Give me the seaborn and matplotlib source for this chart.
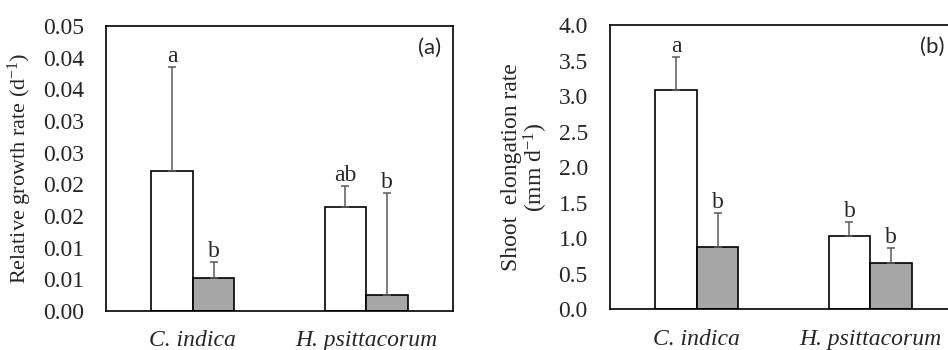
import matplotlib
matplotlib.use("Agg")
import matplotlib.pyplot as plt
import seaborn as sns
import pandas as pd

# ---- data ----
species = ["C. indica", "H. psittacorum"]
treatments = ["T1", "T2"]
rgr_mean = [[0.0221, 0.0052], [0.0164, 0.0026]]
rgr_err = [[0.0164, 0.0026], [0.0033, 0.0161]]
rgr_letters = [["a", "b"], ["ab", "b"]]
ser_mean = [[3.08, 0.88], [1.035, 0.655]]
ser_err = [[0.47, 0.48], [0.195, 0.21]]
ser_letters = [["a", "b"], ["b", "b"]]
rgr_ticks = [0.0, 0.005, 0.01, 0.015, 0.02, 0.025, 0.03, 0.035, 0.04, 0.045]
rgr_ticklabels = ["0.00", "0.01", "0.01", "0.02", "0.02", "0.03", "0.03", "0.04", "0.04", "0.05"]
ser_ticks = [0.0, 0.5, 1.0, 1.5, 2.0, 2.5, 3.0, 3.5, 4.0]
ser_ticklabels = ["0.0", "0.5", "1.0", "1.5", "2.0", "2.5", "3.0", "3.5", "4.0"]

sns.set_style("white")
plt.rcParams["font.family"] = ["Liberation Serif", "DejaVu Serif"]
plt.rcParams["mathtext.fontset"] = "custom"
plt.rcParams["mathtext.rm"] = "Liberation Serif"
plt.rcParams["mathtext.default"] = "rm"

FS = 17
colors = ["white", "#a6a6a6"]


def make_df(mean):
    rows = []
    for i, sp in enumerate(species):
        for j, tr in enumerate(treatments):
            rows.append({"species": sp, "treatment": tr, "value": mean[i][j]})
    return pd.DataFrame(rows)


def panel(ax, mean, err, letters, ticks, ticklabels, ylabel, ylfs, tag):
    df = make_df(mean)
    sns.barplot(data=df, x="species", y="value", hue="treatment",
                hue_order=treatments, order=species, palette=colors,
                saturation=1, width=0.48, edgecolor="black", linewidth=1.2,
                errorbar=None, legend=False, ax=ax)
    bar_conts = list(ax.containers)
    for j, cont in enumerate(bar_conts):
        for i, p in enumerate(cont.patches):
            xc = p.get_x() + p.get_width() / 2
            h = p.get_height()
            ax.errorbar([xc], [h], yerr=[[0], [err[i][j]]], fmt="none",
                        ecolor="#595959", elinewidth=1.1, capsize=3,
                        capthick=1.1, zorder=1)
            ax.text(xc, h + err[i][j], letters[i][j], ha="center",
                    va="bottom", fontsize=FS)
    ax.set_xlim(-0.5, 1.5)
    ax.set_ylim(ticks[0], ticks[-1])
    ax.set_yticks(ticks)
    ax.set_yticklabels(ticklabels, fontsize=FS)
    ax.set_xticks([0, 1])
    ax.set_xticklabels(species, fontsize=FS, style="italic")
    ax.tick_params(axis="y", length=0, pad=16)
    ax.tick_params(axis="x", length=0, pad=14)
    ax.set_xlabel("")
    ax.set_ylabel(ylabel, fontsize=ylfs, labelpad=6)
    for s in ax.spines.values():
        s.set_visible(True)
        s.set_color("black")
        s.set_linewidth(1.2)
    ax.text(0.965, 0.925, tag, transform=ax.transAxes, ha="right",
            va="center", fontsize=16, family="Lato")


fig = plt.figure(figsize=(9.48, 3.5), dpi=100)
ax1 = fig.add_axes([0.1118, 0.1114, 0.366, 0.814])
ax2 = fig.add_axes([0.6435, 0.1163, 0.366, 0.812])

panel(ax1, rgr_mean, rgr_err, rgr_letters, rgr_ticks, rgr_ticklabels,
      r"Relative growth rate (d$^{-1}$)", 16, "(a)")
panel(ax2, ser_mean, ser_err, ser_letters, ser_ticks, ser_ticklabels,
      "Shoot  elongation rate\n" + r"(mm d$^{-1}$)", 17, "(b)")
ax2.yaxis.label.set_linespacing(1.0)

fig.savefig("out.png", dpi=100)
